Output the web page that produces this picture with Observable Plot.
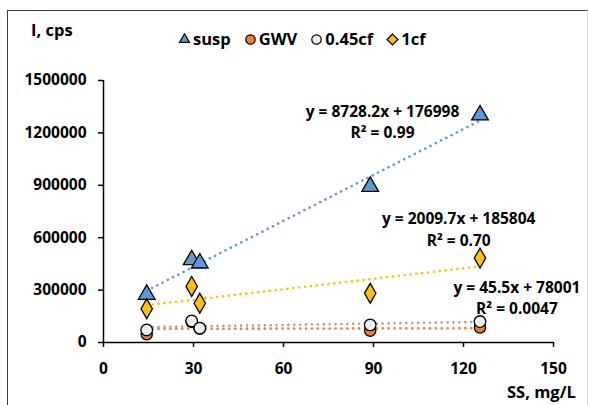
<!DOCTYPE html>
<html><head><meta charset="utf-8">
<script src="https://cdn.jsdelivr.net/npm/d3@7"></script>
<script src="https://cdn.jsdelivr.net/npm/@observablehq/plot@0.6"></script>
<style>
body{margin:0;background:#fff;}
#wrap{position:relative;width:589px;height:405px;overflow:hidden;font-family:"Open Sans",sans-serif;font-weight:700;color:#000;}
#frame{position:absolute;left:7px;top:10px;width:581px;height:400px;border-left:1.5px solid #3a3a3a;border-top:1.5px solid #3a3a3a;border-right:1px solid #d9d9d9;box-sizing:border-box;}
#chart{position:absolute;left:0;top:0;}
.lbl{position:absolute;font-size:16.5px;white-space:nowrap;line-height:1;}
#legend{position:absolute;top:31px;left:178px;display:flex;align-items:center;font-size:16.5px;line-height:1;}
#legend .it{display:flex;align-items:center;margin-right:13px;}
#legend svg{margin-right:2px;}
</style></head>
<body>
<div id="wrap">
  <div id="frame"></div>
  <div id="chart"></div>
  <div class="lbl" id="ylab" style="left:31px;top:22px;">I, cps</div>
  <div class="lbl" id="xlab" style="left:507px;top:384px;">SS, mg/L</div>
  <div id="legend"></div>
</div>
<script>
// ---- data ----
const ss = [14.4, 29.4, 32.1, 88.9, 125.5];
const seriesNames = ["susp", "GWV", "0.45cf", "1cf"];
const susp = [275000, 473000, 454000, 893000, 1302000];
const gwv = [47000, 118000, 80000, 67000, 86000];
const cf045 = [72000, 124000, 82000, 101000, 120000];
const cf1 = [193000, 321000, 225000, 282000, 483000];
const xTicks = [0, 30, 60, 90, 120, 150];
const yTicks = [0, 300000, 600000, 900000, 1200000, 1500000];
const eqText = ["y = 8728.2x + 176998\nR² = 0.99", "y = 2009.7x + 185804\nR² = 0.70", "y = 45.5x + 78001\nR² = 0.0047"];
const eqX = [93, 118.4, 137.8];
const eqY = [1271000, 655000, 263000];

// ---- styles ----
const colors = ["#5B9BD5", "#ED7D31", "#EEEEEE", "#FFC000"];
const lineColors = ["#5B9BD5", "#ED7D31", "#A5A5A5", "#FFC000"];
const symbols = ["triangle", "circle", "circle", "diamond"];
const radii = [6.2, 5.6, 5.8, 6];

const values = [susp, gwv, cf045, cf1];
const rows = values.map((vals, i) => ss.map((x, j) => ({series: seriesNames[i], x, y: vals[j]})));
const eqs = eqText.map((t, i) => ({t, x: eqX[i], y: eqY[i]}));

const marks = [
  Plot.axisX({ticks: xTicks, tickSize: 5, tickPadding: 15, label: null, tickFormat: d => String(d), strokeWidth: 1.5, fontSize: 15.5, fontWeight: 700}),
  Plot.axisY({ticks: yTicks, tickSize: 5, tickPadding: 12, label: null, tickFormat: d => String(d), strokeWidth: 1.5, fontSize: 15.5, fontWeight: 700}),
  Plot.ruleX([0], {stroke: "#000", strokeWidth: 1.5}),
  Plot.ruleY([0], {stroke: "#000", strokeWidth: 1.5}),
];
rows.forEach((r, i) => {
  marks.push(Plot.linearRegressionY(r, {x: "x", y: "y", ci: 0, stroke: lineColors[i], strokeWidth: 2.6,
    strokeDasharray: "0.1,5.8", strokeLinecap: "round"}));
});
rows.forEach((r, i) => {
  marks.push(Plot.dot(r, {x: "x", y: "y", symbol: symbols[i], r: radii[i], fill: colors[i], stroke: "#000", strokeWidth: 1.3}));
});
marks.push(Plot.text(eqs, {x: "x", y: "y", text: "t", lineHeight: 1.38, fontSize: 15.5, fontWeight: 700, fill: "#000"}));

const chart = Plot.plot({
  width: 589, height: 405,
  marginLeft: 103, marginRight: 36, marginTop: 80, marginBottom: 63,
  style: {fontFamily: "Open Sans", fontWeight: 700, fontSize: "15.5px", color: "#000", background: "transparent", overflow: "visible"},
  x: {domain: [0, 150]},
  y: {domain: [0, 1500000]},
  marks
});
document.getElementById("chart").appendChild(chart);

// ---- legend ----
const symMap = {triangle: d3.symbolTriangle2, circle: d3.symbolCircle, diamond: d3.symbolDiamond2};
const legendSizes = [70, 70, 70, 75];
const leg = document.getElementById("legend");
seriesNames.forEach((n, i) => {
  const it = document.createElement("div");
  it.className = "it";
  const p = d3.symbol(symMap[symbols[i]], legendSizes[i])();
  it.innerHTML = `<svg width="13" height="13" viewBox="-6.5 -6.5 13 13"><path d="${p}" fill="${colors[i]}" stroke="#000" stroke-width="1.2"/></svg><span>${n}</span>`;
  leg.appendChild(it);
});
</script>
</body></html>
